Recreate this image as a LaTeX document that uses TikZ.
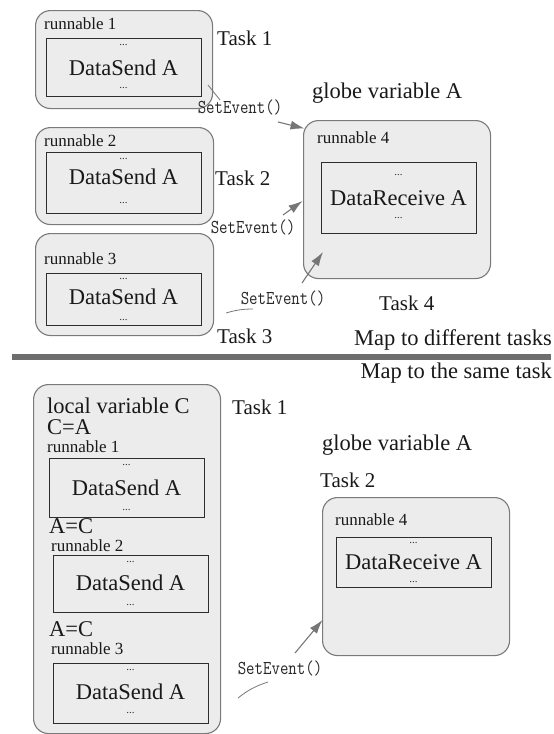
\documentclass[tikz,border=0pt]{standalone}
\usepackage{fontspec}
\usepackage{graphicx}
\setmainfont{Liberation Serif}
\usetikzlibrary{arrows.meta}
\definecolor{boxfill}{HTML}{ECECEC}
\definecolor{boxline}{HTML}{7A7A7A}
\definecolor{innerline}{HTML}{2E2E2E}
\definecolor{arrowgray}{HTML}{767676}
\tikzset{
  taskbox/.style={draw=boxline, fill=boxfill, line width=1.1pt, rounded corners=15pt,
    anchor=north west, inner sep=0pt},
  runbox/.style={draw=innerline, fill=boxfill, line width=0.9pt, anchor=north west, inner sep=0pt},
  bigtxt/.style={font=\fontsize{22.5}{24}\selectfont, inner sep=0pt, text=black!90},
  tasktxt/.style={font=\fontsize{21}{23}\selectfont, inner sep=0pt, anchor=west, text=black!90},
  runtxt/.style={font=\fontsize{17}{19}\selectfont, inner sep=0pt, anchor=west, text=black!90},
  dotstxt/.style={font=\fontsize{11}{11}\selectfont, inner sep=0pt, text=black!80},
  eventtxt/.style={font=\ttfamily\fontsize{16.4}{18}\selectfont, inner sep=0pt, text=black!85},
  evarrow/.style={draw=arrowgray, line width=1.1pt, -{Latex[length=14pt,width=9pt]}},
  leader/.style={draw=arrowgray, line width=0.8pt},
  divider/.style={draw=boxline!90!black, line width=6pt}
}
\newcommand{\evtext}{\scalebox{1}[1.2]{SetEvent()}}
\begin{document}
\begin{tikzpicture}[x=1pt, y=-1pt]
\useasboundingbox (0,0) rectangle (554,734);

% ---------- separate tasks ----------
% task 1
\node[taskbox, minimum width=177pt, minimum height=98pt] (tA) at (35,10) {};
\node[runtxt] (tAlab) at (44,24) {runnable 1};
\node[runbox, minimum width=155pt, minimum height=58pt] (tAin) at (46,38) {};
\node[dotstxt] (tAd1) at (123.5,45) {...};
\node[bigtxt] (tAtx) at (123.5,68) {DataSend A};
\node[dotstxt] (tAd2) at (123.5,88) {...};
\node[tasktxt] (tAname) at (217,38) {Task 1};

% task 2
\node[taskbox, minimum width=178pt, minimum height=97pt] (tB) at (35,127) {};
\node[runtxt] (tBlab) at (44,141) {runnable 2};
\node[runbox, minimum width=155pt, minimum height=61pt] (tBin) at (46,152) {};
\node[dotstxt] (tBd1) at (123.5,159) {...};
\node[bigtxt] (tBtx) at (123.5,177) {DataSend A};
\node[dotstxt] (tBd2) at (123.5,203) {...};
\node[tasktxt] (tBname) at (215,178) {Task 2};

% task 3
\node[taskbox, minimum width=178pt, minimum height=102pt] (tC) at (35,233) {};
\node[runtxt] (tClab) at (44,259) {runnable 3};
\node[runbox, minimum width=155pt, minimum height=52pt] (tCin) at (46,273) {};
\node[dotstxt] (tCd1) at (123.5,279) {...};
\node[bigtxt] (tCtx) at (123.5,297) {DataSend A};
\node[dotstxt] (tCd2) at (123.5,320) {...};
\node[tasktxt] (tCname) at (217,336) {Task 3};

% task 4 (receiver)
\node[bigtxt, anchor=west] (globA) at (312,93) {globe variable A};
\node[taskbox, minimum width=187pt, minimum height=158pt] (tD) at (303,120) {};
\node[runtxt] (tDlab) at (317,138) {runnable 4};
\node[runbox, minimum width=155pt, minimum height=71pt] (tDin) at (321,162) {};
\node[dotstxt] (tDd1) at (398.5,175) {...};
\node[bigtxt] (tDtx) at (398.5,198) {DataReceive A};
\node[dotstxt] (tDd2) at (398.5,218) {...};
\node[tasktxt] (tDname) at (379,303) {Task 4};

% events
\node[eventtxt] (evA) at (240,107) {\evtext};
\node[eventtxt] (evB) at (253,227) {\evtext};
\node[eventtxt] (evC) at (283,298) {\evtext};
\coordinate (lA1) at (208,85);
\coordinate (lA2) at (220,100);
\coordinate (lC1) at (226,313);
\coordinate (lC2) at (253,309);
\coordinate (aA1) at (278,122);
\coordinate (aA2) at (304.5,128.5);
\coordinate (aB1) at (283,215);
\coordinate (aB2) at (302.5,201);
\coordinate (aC1) at (302,283);
\coordinate (aC2) at (323,252);
\draw[leader] (lA1) -- (lA2);
\draw[leader] (lC1) to[bend left=8] (lC2);
\draw[evarrow] (aA1) -- (aA2);
\draw[evarrow] (aB1) -- (aB2);
\draw[evarrow] (aC1) -- (aC2);

% ---------- divider ----------
\node[bigtxt, anchor=east] (mapdiff) at (552,340) {Map to different tasks};
\coordinate (divL) at (12,357);
\coordinate (divR) at (551,357);
\draw[divider] (divL) -- (divR);
\node[bigtxt, anchor=east] (mapsame) at (552,373) {Map to the same task};

% ---------- same task ----------
\node[taskbox, minimum width=187pt, minimum height=349pt] (sA) at (33,384) {};
\node[bigtxt, anchor=west] (locC) at (47,406) {local variable C};
\node[bigtxt, anchor=west] (asg1) at (47,427) {C=A};
\node[runtxt] (sAlab1) at (47,447) {runnable 1};
\node[runbox, minimum width=155pt, minimum height=59pt] (sAin1) at (49,458) {};
\node[dotstxt] (sAd11) at (126.5,465) {...};
\node[bigtxt] (sAtx1) at (126.5,488) {DataSend A};
\node[dotstxt] (sAd12) at (126.5,510) {...};
\node[bigtxt, anchor=west] (asg2) at (49,526) {A=C};
\node[runtxt] (sAlab2) at (51,546) {runnable 2};
\node[runbox, minimum width=155pt, minimum height=57pt] (sAin2) at (53,555) {};
\node[dotstxt] (sAd21) at (130.5,562) {...};
\node[bigtxt] (sAtx2) at (130.5,583) {DataSend A};
\node[dotstxt] (sAd22) at (130.5,605) {...};
\node[bigtxt, anchor=west] (asg3) at (49,629) {A=C};
\node[runtxt] (sAlab3) at (51,649) {runnable 3};
\node[runbox, minimum width=155pt, minimum height=60pt] (sAin3) at (53,663) {};
\node[dotstxt] (sAd31) at (130.5,670) {...};
\node[bigtxt] (sAtx3) at (130.5,692) {DataSend A};
\node[dotstxt] (sAd32) at (130.5,713) {...};
\node[tasktxt] (sAname) at (232,407) {Task 1};

\node[bigtxt, anchor=west] (globA2) at (322,445) {globe variable A};
\node[tasktxt] (sBname) at (320,480) {Task 2};
\node[taskbox, minimum width=187pt, minimum height=158pt] (sB) at (322,497) {};
\node[runtxt] (sBlab) at (335,520) {runnable 4};
\node[runbox, minimum width=155pt, minimum height=50pt] (sBin) at (336,537) {};
\node[dotstxt] (sBd1) at (413.5,543) {...};
\node[bigtxt] (sBtx) at (413.5,562) {DataReceive A};
\node[dotstxt] (sBd2) at (413.5,582) {...};

\node[eventtxt] (evD) at (280,668) {\evtext};
\coordinate (aD1) at (295,653);
\coordinate (aD2) at (322.5,620);
\coordinate (lD1) at (238,698);
\coordinate (lD2) at (268,682);
\draw[evarrow] (aD1) -- (aD2);
\draw[leader] (lD1) to[bend left=10] (lD2);
\end{tikzpicture}
\end{document}
